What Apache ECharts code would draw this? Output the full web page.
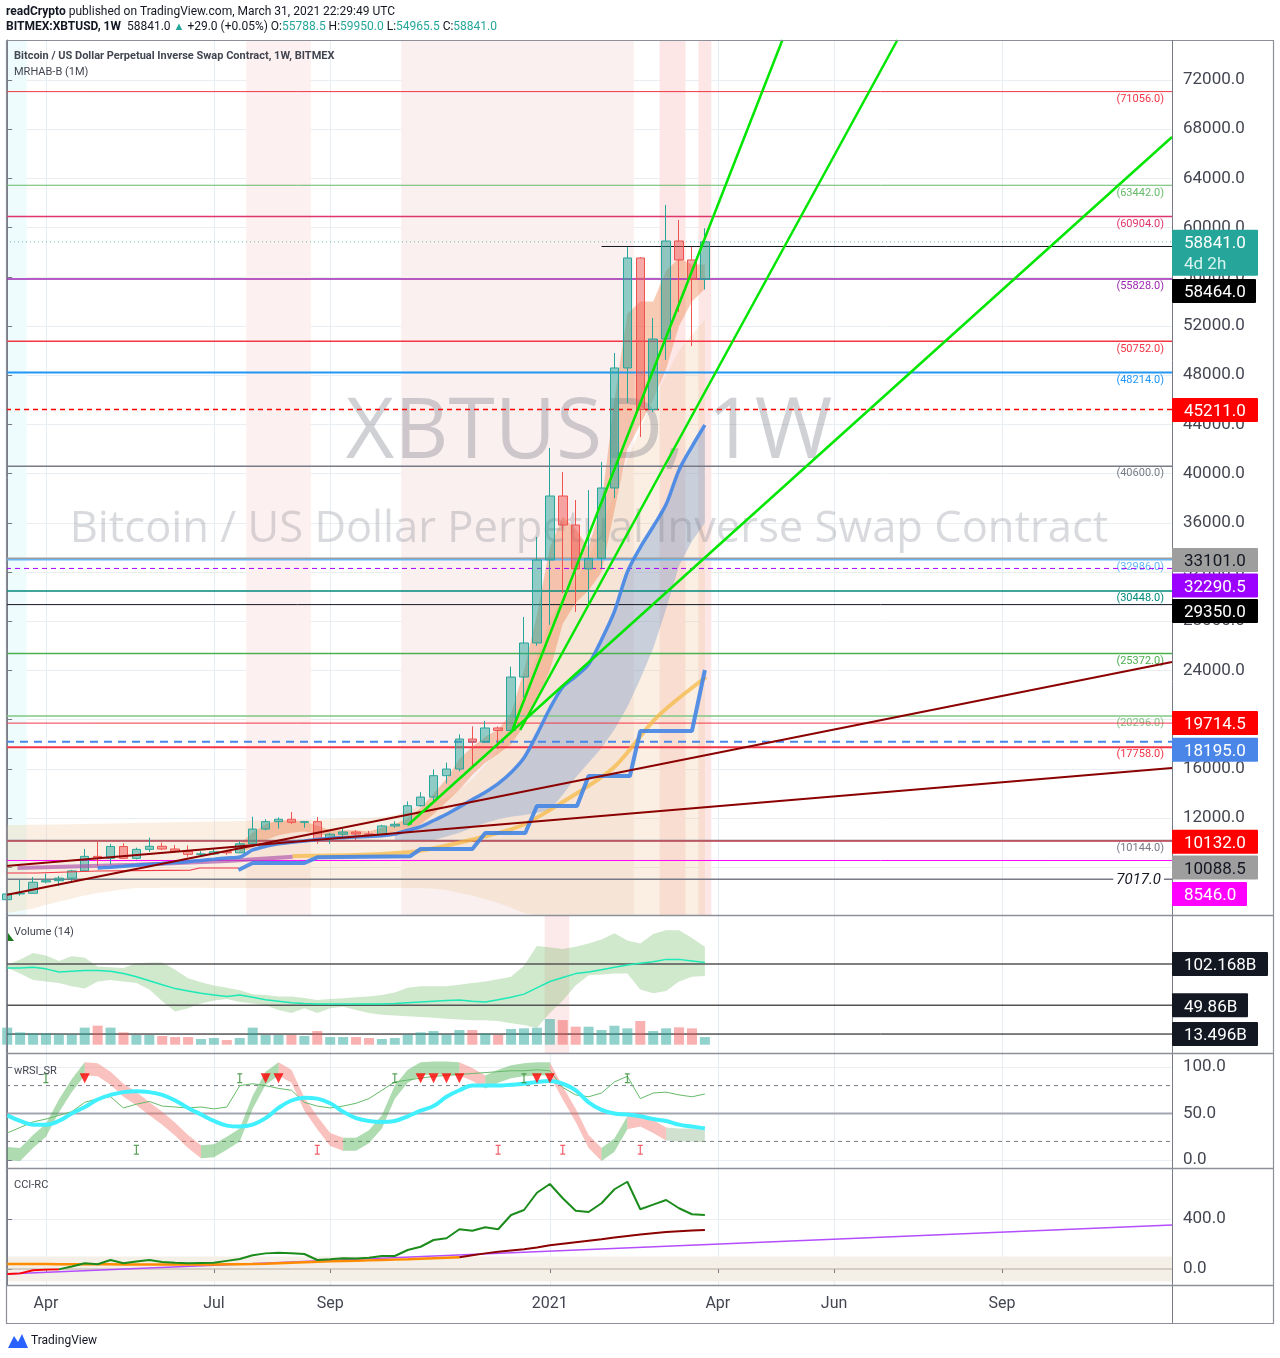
<!DOCTYPE html>
<html>
<head>
<meta charset="utf-8">
<title>XBTUSD 1W</title>
<script src="https://cdn.jsdelivr.net/npm/echarts@6/dist/echarts.min.js"></script>
<style>
  html, body { margin: 0; background: #fff; }
  #main { width: 1280px; height: 1358px; }
</style>
</head>
<body>
<div id="main"></div>
<script>
// weekly bars, BITMEX:XBTUSD
const weeks = [
  '2020-03-16', '2020-03-23', '2020-03-30', '2020-04-06', '2020-04-13', '2020-04-20', '2020-04-27',
  '2020-05-04', '2020-05-11', '2020-05-18', '2020-05-25', '2020-06-01', '2020-06-08', '2020-06-15',
  '2020-06-22', '2020-06-29', '2020-07-06', '2020-07-13', '2020-07-20', '2020-07-27', '2020-08-03',
  '2020-08-10', '2020-08-17', '2020-08-24', '2020-08-31', '2020-09-07', '2020-09-14', '2020-09-21',
  '2020-09-28', '2020-10-05', '2020-10-12', '2020-10-19', '2020-10-26', '2020-11-02', '2020-11-09',
  '2020-11-16', '2020-11-23', '2020-11-30', '2020-12-07', '2020-12-14', '2020-12-21', '2020-12-28',
  '2021-01-04', '2021-01-11', '2021-01-18', '2021-01-25', '2021-02-01', '2021-02-08', '2021-02-15',
  '2021-02-22', '2021-03-01', '2021-03-08', '2021-03-15', '2021-03-22', '2021-03-29'
];
// [open, close, low, high]
const candles = [
  [5360, 5830, 4440, 6900], [5830, 5880, 5680, 6950], [5880, 6780, 5850, 7200], [6800, 6900, 6700, 7470],
  [6900, 7110, 6480, 7290], [7110, 7700, 6780, 7780], [7700, 8880, 7640, 9480], [8880, 8720, 8100, 10060],
  [8720, 9680, 8200, 9900], [9680, 8720, 8700, 9950], [8720, 9450, 8630, 9590], [9450, 9700, 9250, 10400],
  [9700, 9480, 9390, 10000], [9480, 9300, 9200, 9800], [9300, 9050, 8850, 9770], [9050, 9080, 8900, 9300],
  [9080, 9250, 9050, 9470], [9250, 9170, 9000, 9300], [9170, 9900, 9150, 10100], [9900, 11100, 9900, 12100],
  [11100, 11700, 11000, 11900], [11700, 11900, 11150, 12050], [11900, 11650, 11500, 12480], [11650, 11700, 11200, 11750],
  [11700, 10300, 9900, 12080], [10300, 10680, 9900, 10780], [10680, 10860, 10500, 11100], [10860, 10700, 10150, 11000],
  [10700, 10620, 10450, 10950], [10620, 11350, 10550, 11450], [11350, 11490, 11200, 11720], [11490, 13000, 11400, 13350],
  [13000, 13700, 12900, 14100], [13700, 15440, 13300, 15950], [15440, 15980, 14800, 16500], [15980, 18420, 15800, 18800],
  [18420, 18180, 16200, 19450], [18180, 19320, 18100, 19900], [19320, 19120, 17600, 19450], [19120, 23460, 19000, 24300],
  [23460, 26230, 21800, 28340], [26230, 32980, 26000, 34850], [32980, 38180, 27700, 42080], [38180, 35820, 30290, 40130],
  [35820, 32250, 28750, 37850], [32250, 33101, 29150, 38660], [33101, 38830, 32300, 40950], [38830, 48590, 38020, 49800],
  [48590, 57530, 45740, 58420], [57530, 45211, 42980, 57600], [45211, 50940, 45000, 52650], [50940, 58910, 49240, 61840],
  [58910, 57370, 53140, 60620], [57370, 55788.5, 50370, 58430], [55788.5, 58841, 54965.5, 59950]
];
// volume, billions
const volume = [21.6, 15.6, 14.4, 14.4, 13.1, 13.1, 21.6, 24.1, 21.6, 15.6, 12.3, 12.3, 11.0, 9.7, 9.7, 7.2, 8.5, 5.9,
  8.5, 21.6, 12.3, 12.3, 12.3, 11.0, 17.3, 9.7, 9.7, 9.7, 8.5, 7.2, 8.5, 13.1, 15.6, 17.3, 13.1, 18.6, 18.6, 14.4,
  12.3, 19.9, 20.7, 21.5, 32.5, 31.2, 22.8, 22.8, 18.6, 24.0, 20.7, 30.0, 17.3, 20.7, 22.0, 20.7, 9.7];
const volLine = [97, 97, 98, 96, 92, 93, 94, 94, 93, 90, 86, 81, 76, 71, 68, 65, 63, 61, 63, 60, 57, 55, 53, 52, 51.5,
  51.5, 51.5, 51.5, 51.5, 51.5, 52, 53, 54, 55, 56, 56.5, 55, 54, 57, 60, 64, 72, 80, 85, 90, 92, 95, 98, 101, 103, 105,
  108, 108, 106, 104];
const volUpper = [101, 108, 116, 113, 106, 112, 110, 99, 98, 97, 103, 104, 104, 95, 84, 79, 75, 72, 69, 64, 63, 61, 61,
  59, 56.5, 58, 58.7, 60, 61, 63, 66, 72, 74, 74, 74, 76, 78, 80, 83, 86, 100, 125, 123, 121, 124, 128, 133, 141, 132,
  128, 140, 145, 145, 135, 124];
const volLower = [97, 90, 82, 80, 78, 74, 71, 80, 82, 80, 78, 70, 55, 42, 46, 52, 56, 58, 54, 52, 50, 44, 40, 46, 40, 46,
  48, 44, 40, 38, 37, 36, 35, 34, 33, 32, 31, 31, 30, 27, 25, 21, 40, 56, 75, 88, 89, 90, 90, 70, 65, 68, 80, 86, 87];
const volLevels = [102.168, 49.86, 13.496];

// price overlays
const peachUpper = [11430, 11440, 11460, 11470, 11480, 11500, 11520, 11540, 11560, 11580, 11600, 11620, 11640, 11660,
  11680, 11700, 11720, 11740, 11760, 11780, 11800, 11820, 11840, 11860, 11880, 11900, 11930, 11960, 12000, 12100, 12245,
  12600, 13000, 13300, 13600, 14277, 15200, 16300, 17529, 19800, 22400, 25200, 28100, 30000, 31500, 33000, 35700, 38400,
  41100, 43600, 46000, 48000, 50000, 51300, 52500];
const peachLower = [4280, 4450, 4650, 4930, 5200, 5450, 5700, 5900, 6050, 6200, 6310, 6310, 6320, 6330, 6330, 6320, 6310,
  6310, 6300, 6300, 6310, 6310, 6320, 6320, 6310, 6310, 6300, 6300, 6310, 6310, 6310, 6310, 6300, 6250, 6150, 5900, 5700,
  5400, 5090, 4700, 4280, 4114, 4114, 4114, 4114, 4114, 4114, 4114, 4114, 4114, 4114, 4114, 4114, 4114, 4114];
const salmonFrom = 18;
const salmonLow = [9200, 9600, 10200, 10600, 10800, 10900, 10700, 10500, 10500, 10500, 10500, 10600, 10900, 11000, 11500,
  12300, 13300, 14300, 15500, 16500, 17200, 18000, 19500, 21500, 24000, 27800, 29500, 30500, 32000, 37000, 42000, 44000,
  46000, 48500, 52000, 54000, 55000];
const salmonHigh = [9900, 10800, 11500, 11800, 11800, 11700, 11400, 11000, 11000, 11000, 10900, 11200, 11500, 12000, 12800,
  14000, 15200, 16800, 17800, 18600, 19200, 20500, 24000, 28500, 34000, 36500, 35500, 34000, 37500, 46000, 53000, 54000,
  54000, 56500, 57500, 57000, 57000];
const blueFrom = 7;
const blueLine = [7940, 8000, 8070, 8150, 8230, 8300, 8380, 8450, 8550, 8650, 8750, 8830, 9400, 9700, 9900, 10030, 10130,
  10250, 10350, 10400, 10450, 10500, 10550, 10700, 11000, 11300, 11800, 12300, 12900, 13500, 14100, 14800, 15700, 16900,
  18800, 20900, 22650, 23500, 24500, 26500, 28800, 32000, 34000, 35700, 37500, 40300, 42200, 43950];
const blueLowFrom = 30;
const blueLow = [10050, 10100, 10150, 10210, 10500, 10800, 11200, 11600, 11900, 12100, 12240, 12400, 12650, 13900, 15300,
  16500, 17700, 19200, 21030, 23300, 25800, 29000, 32500, 34500, 36000];
const stepX = [17.9, 19, 23, 24, 31.2, 32, 36, 37, 40.1, 41, 44.1, 45, 48.2, 49, 53, 54];
const stepY = [7773, 8342, 8342, 8800, 8900, 9480, 9480, 10780, 10780, 12976, 12976, 15415, 15415, 19074, 19074, 24033];
const orangeX = [22.1, 31.2, 36.8, 39.9, 43, 46.9, 50.3, 54.1];
const orangeY = [8911, 9236, 10455, 11432, 13300, 16066, 20212, 23464];
const mauveX = [0.8, 10, 17, 22.1];
const mauveY = [7937, 8200, 8500, 8850];
const redX = [0, 2.3, 7, 14.2, 14.9, 17.9];
const redY = [7530, 7530, 7690, 7770, 7937, 7937];
// drawn trend lines: [week position, price]
const fanLines = [
  [[31.02, 11431], [90.155, 67366]],
  [[39.1, 19155], [60.0, 75252]],
  [[39.7, 19155], [68.9, 75252]]
];
const trendLines = [
  [[-0.093, 5740], [90.155, 24683]],
  [[-0.093, 8098], [90.155, 16066]]
];
const levelValues = [71056, 63442, 60904, 58841, 58464, 55828, 50752, 48214, 45211, 40600, 33101, 32986, 32290.5, 30448,
  29350, 25372, 20296, 19714.5, 18195, 17758, 10144, 10132, 8546, 7017];
const badgeValues = [58841, 58464, 45211, 33101, 32290.5, 29350, 19714.5, 18195, 10132, 10088.5, 8546];
const priceTicks = [8000, 12000, 16000, 20000, 24000, 28000, 32000, 36000, 40000, 44000, 48000, 52000, 56000, 60000,
  64000, 68000, 72000];

// wRSI_SR
const wave = [48, 42, 38, 38, 42, 50, 57, 65, 70, 73, 74, 73, 70, 64, 56, 49, 42, 37, 36, 38, 45, 56, 64, 67, 66, 61, 52,
  45, 42, 41, 42, 47, 53, 58, 68, 75, 80, 80, 80, 81, 82, 84, 85, 82, 75, 62, 54, 50, 49, 47, 44, 42, 38, 36, 34];
const ribbon = [7, 6, 20, 32, 58, 80, 98, 97, 88, 75, 66, 55, 45, 33, 20, 9, 10, 18, 27, 62, 88, 98, 90, 60, 40, 22, 17,
  17, 25, 41, 73, 90, 98, 99, 99, 98, 92, 84, 90, 95, 97, 98, 98, 72, 48, 20, 6, 16, 40, 43, 36, 28, 27, 27, 26];
const ribbonSegs = [[0, 6, 'up'], [6, 15, 'dn'], [15, 21, 'up'], [21, 26, 'dn'], [26, 35, 'up'], [35, 37, 'dn'],
  [37, 42, 'up'], [42, 46, 'dn'], [46, 48, 'up'], [48, 51, 'dn'], [51, 54, 'flat']];
const thin = [29, 35, 41, 44, 48, 52, 62, 66, 68, 56, 60, 63, 58, 57, 56, 57, 55, 57, 80, 82, 80, 77, 75, 62, 58, 56, 58,
  61, 66, 75, 84, 86, 88, 90, 91, 92, 93, 94, 95, 96, 96, 97, 96, 78, 70, 68, 72, 84, 90, 66, 72, 73, 70, 68, 71];
const sellMarks = [6, 20, 21, 32, 33, 34, 35, 41, 42];
const topMarks = [3, 18, 30, 40, 48];
const lowGreenMarks = [10];
const lowRedMarks = [24, 38, 43, 49];
const rsiLevels = [80, 50, 20];
const rsiTicks = [0, 50, 100];

// CCI-RC
const cciRed = [-40, -35, -10, -5, -3];
const cciGreen = [null, null, null, null, -3, 20, 46, 38, 72, 46, 60, 72, 56, 50, 46, 48, 50, 65, 80, 110, 125, 130, 126,
  120, 72, 78, 86, 84, 90, 104, 104, 152, 178, 232, 246, 318, 306, 334, 318, 432, 472, 610, 680, 566, 466, 456, 526,
  638, 698, 478, 515, 552, 486, 438, 432];
const cciOrange = [40, 40, 40, 40, 39, 39, 38, 38, 38, 37, 37, 37, 36, 36, 36, 37, 37, 38, 39, 40, 42, 46, 50, 54, 58, 61,
  64, 66, 69, 72, 75, 78, 82, 86, 90, 94];
const cciDarkFrom = 35;
const cciDark = [94, 110, 125, 138, 148, 158, 172, 190, 202, 214, 226, 238, 252, 264, 276, 286, 296, 302, 308, 312];
const cciPurple = [[-0.093, -40], [90.155, 352]];
const cciTicks = [0, 400];

const xTickIdx = [3, 16, 25, 42, 55, 64, 77];
const xTickText = ['Apr', 'Jul', 'Sep', '2021', 'Apr', 'Jun', 'Sep'];

const X_MIN = -0.093, X_MAX = 90.155;
const UP = '#26a69a', DOWN = '#ef5350';
const FONT = 'Roboto, "Noto Sans", sans-serif';
const idx = weeks.map((w, i) => i);

const levelStyles = [
  { c: '#f23645', tag: true }, { c: '#66bb6a', tag: true }, { c: '#e0356b', tag: true, w: 1.5 },
  { c: 'rgba(38,166,154,0.7)', dash: [1, 3] }, { c: '#131722', from: 46 }, { c: '#9c27b0', tag: true, w: 1.5 },
  { c: '#f23645', tag: true, w: 1.5 }, { c: '#2196f3', tag: true, w: 2 }, { c: '#ff0000', dash: [5, 4], w: 1.5 },
  { c: '#787b86', tag: true, w: 1.5 }, { c: '#9e9e9e', w: 2 }, { c: '#64b5f6', tag: true, w: 1.5 },
  { c: '#aa00ff', dash: [5, 4] }, { c: '#00897b', tag: true, w: 1.5 }, { c: '#131722' },
  { c: '#4caf50', tag: true, w: 1.5 }, { c: '#81c784', tag: true, w: 1.5 }, { c: '#f23645' },
  { c: '#4a86e8', dash: [8, 6], w: 2 }, { c: '#f23645', tag: true, w: 2 }, { c: '#787b86', tag: true, w: 2 },
  { c: '#f23645' }, { c: '#ff00ff' }, { c: '#787b86', w: 1.5, italic: true }
];
const badgeStyles = [
  { bg: '#26a69a', fg: '#fff', dy: 11, w: 86, sub: '4d 2h' }, { bg: '#000', fg: '#fff', dy: 44.5, w: 84 },
  { bg: '#ff0000', fg: '#fff', dy: 0.5, w: 86 }, { bg: '#9e9e9e', fg: '#131722', dy: 1.5, w: 86 },
  { bg: '#9c00ff', fg: '#fff', dy: 17, w: 86 }, { bg: '#000', fg: '#fff', dy: 6.5, w: 86 },
  { bg: '#ff0000', fg: '#fff', dy: 0, w: 86 }, { bg: '#4a86e8', fg: '#fff', dy: 8, w: 86 },
  { bg: '#ff0000', fg: '#fff', dy: 0.7, w: 86 }, { bg: '#9e9e9e', fg: '#131722', dy: 26, w: 86 },
  { bg: '#ff00ff', fg: '#fff', dy: 33.5, w: 75 }
];

const pairs = (xs, ys) => xs.map((x, i) => [x, ys[i]]);

const line = (g, data, color, width, z, extra) => Object.assign({
  type: 'line', xAxisIndex: g, yAxisIndex: g, data, symbol: 'none', silent: true, z,
  lineStyle: { color, width }, itemStyle: { color }
}, extra || {});

const poly = (g, xs, lo, hi, fill, z) => ({
  type: 'custom', xAxisIndex: g, yAxisIndex: g, z, silent: true, clip: true,
  data: [[xs[0], lo[0]]],
  renderItem: (p, api) => ({
    type: 'polygon',
    shape: {
      points: xs.map((x, i) => api.coord([x, hi[i]]))
        .concat(xs.map((x, i) => api.coord([x, lo[i]])).reverse())
    },
    style: { fill }
  })
});

const vbands = (g, bands, colors, z) => ({
  type: 'custom', xAxisIndex: g, yAxisIndex: g, z, silent: true, clip: true,
  data: bands.map(b => [b[0], 0]),
  renderItem: (p, api) => {
    const b = bands[p.dataIndex];
    const cs = p.coordSys;
    const x0 = api.coord([b[0], 0])[0], x1 = api.coord([b[1], 0])[0];
    return { type: 'rect', shape: { x: x0, y: cs.y, width: x1 - x0, height: cs.height }, style: { fill: colors[p.dataIndex] } };
  }
});

const hlines = (g, values, styles, z) => ({
  type: 'custom', xAxisIndex: g, yAxisIndex: g, z, silent: true, clip: true,
  data: values.map(v => [X_MAX, v]),
  renderItem: (p, api) => {
    const v = values[p.dataIndex], s = styles[p.dataIndex];
    const a = api.coord([s.from != null ? s.from : X_MIN, v]), b = api.coord([X_MAX, v]);
    const kids = [{
      type: 'line', shape: { x1: a[0], y1: a[1], x2: b[0], y2: b[1] },
      style: { stroke: s.c, lineWidth: s.w || 1, lineDash: s.dash }
    }];
    if (s.tag) {
      kids.push({ type: 'text', style: { text: '(' + v.toFixed(1) + ')', x: b[0] - 8, y: a[1] + 2, align: 'right', verticalAlign: 'top', fill: s.c, font: '11px ' + FONT } });
    }
    if (s.italic) {
      kids.push({ type: 'text', style: { text: v.toFixed(1), x: b[0] - 8, y: a[1] + 1, align: 'right', verticalAlign: 'middle', fill: '#131722', font: 'italic 15px ' + FONT, backgroundColor: '#fff', padding: [0, 3] } });
    }
    return { type: 'group', children: kids };
  }
});

const grids = [
  { left: 6, right: 108, top: 40, height: 875 },
  { left: 6, right: 108, top: 916, height: 137 },
  { left: 6, right: 108, top: 1054, height: 114 },
  { left: 6, right: 108, top: 1169, height: 116 }
];

const xAxes = grids.map((gr, g) => ({
  type: 'value', gridIndex: g, min: X_MIN, max: X_MAX,
  axisLine: { show: false },
  axisTick: { show: g === 3, customValues: xTickIdx, length: 4, lineStyle: { color: '#787b86' } },
  axisLabel: {
    show: g === 3, customValues: xTickIdx, margin: 11, color: '#434651', fontSize: 16, fontFamily: FONT,
    formatter: v => xTickText[xTickIdx.indexOf(v)]
  },
  splitLine: { show: true, lineStyle: { color: '#e6eef4' } }
}));

const yBase = (g, min, max, ticks, digits) => ({
  type: 'value', gridIndex: g, position: 'right', min, max,
  axisLine: { show: true, lineStyle: { color: '#787b86' } },
  axisTick: { show: !!ticks, customValues: ticks || [], length: 5, lineStyle: { color: '#787b86' } },
  axisLabel: {
    show: !!ticks, customValues: ticks || [], margin: 11, color: '#434651', fontSize: 17, fontFamily: FONT,
    padding: [5, 0, 0, 0],
    formatter: v => v.toFixed(digits)
  },
  splitLine: { show: !!ticks, lineStyle: { color: '#e9eef3' } }
});

const yAxes = [
  yBase(0, 4114, 75252, priceTicks, 1),
  yBase(1, -10.5, 162.9, null, 1),
  yBase(2, -8.6, 114, rsiTicks, 1),
  yBase(3, -128, 800, cciTicks, 1)
];

const series = [];
// main panel
series.push(vbands(0, [[-0.5, 1.5], [18.5, 23.5], [30.5, 48.5], [50.5, 52.5], [53.5, 54.5]],
  ['#eefcfd', '#fdf0f0', '#faf0f0', '#fce6e6', '#fce6e6'], 0));
series.push(poly(0, idx, peachLower, peachUpper, 'rgba(236,196,150,0.28)', 1));
const sx = idx.slice(salmonFrom);
series.push(poly(0, sx, salmonLow, salmonHigh, 'rgba(240,140,90,0.45)', 1));
const bx = idx.slice(blueLowFrom);
series.push(poly(0, bx, blueLow, blueLine.slice(blueLowFrom - blueFrom), 'rgba(110,150,205,0.35)', 1));
series.push(hlines(0, levelValues, levelStyles, 3));
series.push({
  type: 'candlestick', xAxisIndex: 0, yAxisIndex: 0, z: 5, barWidth: 9, silent: true,
  data: candles.map((c, i) => [i, c[0], c[1], c[2], c[3]]),
  itemStyle: { color: 'rgba(38,166,154,0.5)', color0: 'rgba(239,83,80,0.5)', borderColor: UP, borderColor0: DOWN, borderWidth: 1 }
});
series.push(line(0, pairs(redX, redY), '#f23645', 1.2, 6));
series.push(line(0, pairs(mauveX, mauveY), 'rgba(170,80,170,0.65)', 4, 6));
series.push(line(0, pairs(orangeX, orangeY), 'rgba(245,185,70,0.75)', 4, 6, { smooth: 0.3 }));
series.push(line(0, pairs(stepX, stepY), 'rgba(66,133,230,0.9)', 4, 6));
series.push(line(0, pairs(idx.slice(blueFrom), blueLine), 'rgba(66,133,230,0.9)', 3.5, 6, { smooth: 0.3 }));
trendLines.forEach(t => series.push(line(0, t, '#8b0000', 2, 7)));
fanLines.forEach(f => series.push(line(0, f, '#00e600', 2.5, 8)));

// volume panel
series.push(vbands(1, [[41.6, 43.5]], ['#fce9e9'], 0));
series.push(poly(1, idx, volLower, volUpper, 'rgba(120,190,110,0.35)', 1));
series.push(hlines(1, volLevels, [{ c: '#555', w: 1.5 }, { c: '#555', w: 1.5 }, { c: '#000' }], 2));
series.push({
  type: 'bar', xAxisIndex: 1, yAxisIndex: 1, barWidth: 10, z: 3, silent: true,
  data: volume.map((v, i) => ({
    value: [i, v],
    itemStyle: { color: candles[i][1] >= candles[i][0] ? 'rgba(38,166,154,0.5)' : 'rgba(239,83,80,0.45)' }
  }))
});
series.push(line(1, pairs(idx, volLine), '#1de9b6', 1.5, 4));

// wRSI panel
series.push(hlines(2, rsiLevels, [{ c: '#787b86', dash: [4, 4] }, { c: '#a3a6af', w: 2 }, { c: '#787b86', dash: [4, 4] }], 1));
const ribbonColor = { up: 'rgba(76,175,80,0.45)', dn: 'rgba(244,110,100,0.42)', flat: 'rgba(120,170,120,0.35)' };
ribbonSegs.forEach(sg => {
  const xs = idx.slice(sg[0], sg[1] + 1);
  const vals = ribbon.slice(sg[0], sg[1] + 1);
  series.push(poly(2, xs, vals.map(v => v - 7), vals.map(v => v + 7), ribbonColor[sg[2]], 2));
});
const thinIdx = series.length;
series.push(line(2, pairs(idx, thin), '#66bb6a', 1, 3));
const waveIdx = series.length;
series.push(line(2, pairs(idx, wave), '#40f0ff', 4, 4, { smooth: 0.4 }));
series.push({
  type: 'scatter', xAxisIndex: 2, yAxisIndex: 2, symbol: 'triangle', symbolRotate: 180, symbolSize: 10, z: 6, silent: true,
  itemStyle: { color: '#f00' }, data: sellMarks.map(i => [i, 88])
});
const IBEAM = 'path://M0 0H5V1.2H3.1V8.8H5V10H0V8.8H1.9V1.2H0Z';
series.push({
  type: 'scatter', xAxisIndex: 2, yAxisIndex: 2, symbol: IBEAM, symbolSize: [5, 10], z: 6, silent: true,
  itemStyle: { color: '#2e8b2e' }, data: topMarks.map(i => [i, 88]).concat(lowGreenMarks.map(i => [i, 11]))
});
series.push({
  type: 'scatter', xAxisIndex: 2, yAxisIndex: 2, symbol: IBEAM, symbolSize: [5, 10], z: 6, silent: true,
  itemStyle: { color: '#f23645' }, data: lowRedMarks.map(i => [i, 11])
});

// CCI-RC panel
series.push({
  type: 'custom', xAxisIndex: 3, yAxisIndex: 3, z: 0, silent: true, clip: true, data: [[0, 0]],
  renderItem: (p, api) => {
    const a = api.coord([X_MIN, 100]), b = api.coord([X_MAX, -100]);
    return { type: 'rect', shape: { x: a[0], y: a[1], width: b[0] - a[0], height: b[1] - a[1] }, style: { fill: '#f4efe7' } };
  }
});
series.push(hlines(3, [0], [{ c: '#b5aca0' }], 1));
series.push(line(3, cciPurple, '#b44dff', 1.5, 3));
series.push(line(3, pairs(idx.slice(0, cciOrange.length), cciOrange), '#ff8c00', 2.5, 3));
series.push(line(3, pairs(idx.slice(cciDarkFrom), cciDark), '#8b0000', 2, 3));
series.push(line(3, pairs(idx.slice(0, cciRed.length), cciRed), '#ff0000', 2, 4));
series.push(line(3, pairs(idx, cciGreen), '#1b8c1b', 2, 5));

const CYAN = '#40f0ff', RED = '#f44336';
const option = {
  animation: false,
  backgroundColor: '#fff',
  grid: grids,
  xAxis: xAxes,
  yAxis: yAxes,
  visualMap: [
    {
      type: 'piecewise', show: false, seriesIndex: waveIdx, dimension: 0,
      pieces: [
        { lt: 6, color: CYAN }, { gte: 6, lt: 15, color: RED }, { gte: 15, lt: 21, color: CYAN },
        { gte: 21, lt: 26.5, color: RED }, { gte: 26.5, lt: 35, color: CYAN }, { gte: 35, lt: 39, color: RED },
        { gte: 39, lt: 42, color: CYAN }, { gte: 42, lt: 46, color: RED }, { gte: 46, lt: 49, color: CYAN },
        { gte: 49, lt: 51, color: RED }, { gte: 51, lt: 52.5, color: CYAN }, { gte: 52.5, color: RED }
      ]
    },
    {
      type: 'piecewise', show: false, seriesIndex: thinIdx, dimension: 0,
      pieces: [
        { lt: 18.5, color: '#81c784' }, { gte: 18.5, lt: 22.5, color: '#ffb74d' }, { gte: 22.5, lt: 34.5, color: '#81c784' },
        { gte: 34.5, lt: 42.5, color: '#ffb74d' }, { gte: 42.5, lt: 44, color: '#81c784' }, { gte: 44, lt: 48, color: '#ffb74d' },
        { gte: 48, color: '#81c784' }
      ]
    }
  ],
  series
};

const chart = echarts.init(document.getElementById('main'));
chart.setOption(option);

const gfx = [];
const txt = (text, x, y, font, fill, extra) => Object.assign({ type: 'text', z: 100, silent: true, style: Object.assign({ text, x, y, font, fill, verticalAlign: 'middle' }, extra || {}) });

// watermark
gfx.push(Object.assign(txt('XBTUSD, 1W', 589, 434, '84px "Open Sans"', 'rgba(120,123,134,0.35)', { align: 'center' }), { z: 1 }));
gfx.push(Object.assign(txt('Bitcoin / US Dollar Perpetual Inverse Swap Contract', 589, 530, '43.5px "Open Sans"', 'rgba(120,123,134,0.28)', { align: 'center' }), { z: 1 }));

// header
gfx.push(txt('{b|readCrypto} published on TradingView.com, March 31, 2021 22:29:49 UTC', 6, 12, '12px ' + FONT, '#131722',
  { rich: { b: { fontWeight: 'bold', fontSize: 12, fontFamily: FONT, fill: '#131722' } } }));
gfx.push(txt('{b|BITMEX:XBTUSD, 1W}  58841.0 {g|▲} +29.0 (+0.05%) O:{t|55788.5} H:{t|59950.0} L:{t|54965.5} C:{t|58841.0}', 6, 27,
  '12px ' + FONT, '#131722', {
    rich: {
      b: { fontWeight: 'bold', fontSize: 12, fontFamily: FONT, fill: '#131722' },
      g: { fontSize: 11, fill: UP },
      t: { fontSize: 12, fontFamily: FONT, fill: UP }
    }
  }));
gfx.push(txt('Bitcoin / US Dollar Perpetual Inverse Swap Contract, 1W, BITMEX', 14, 56, 'bold 11px ' + FONT, '#434651'));
gfx.push(txt('MRHAB-B (1M)', 14, 72, '11px ' + FONT, '#434651'));
gfx.push(txt('Volume (14)', 14, 932, '11px ' + FONT, '#434651'));
gfx.push({ type: 'polygon', z: 100, silent: true, shape: { points: [[8, 941], [14, 941], [8, 933]] }, style: { fill: '#1b7a1b' } });
gfx.push(txt('wRSI_SR', 14, 1071, '11px ' + FONT, '#434651'));
gfx.push(txt('CCI-RC', 14, 1185, '11px ' + FONT, '#434651'));

// frame and separators
const frameColor = '#8d9099';
const hl = (y, x1, x2, w) => ({ type: 'line', z: 50, silent: true, shape: { x1, y1: y, x2, y2: y }, style: { stroke: frameColor, lineWidth: w || 1 } });
gfx.push({ type: 'rect', z: 50, silent: true, shape: { x: 6.5, y: 40.5, width: 1267, height: 1283 }, style: { fill: 'none', stroke: frameColor, lineWidth: 1.2 } });
gfx.push({ type: 'line', z: 50, silent: true, shape: { x1: 1172.5, y1: 40, x2: 1172.5, y2: 1323 }, style: { stroke: '#787b86', lineWidth: 1 } });
[915.5, 1053.5, 1168.5, 1285.5].forEach(y => gfx.push(hl(y, 6, 1274, 1.3)));

// price badges on the right axis
badgeValues.forEach((v, i) => {
  const s = badgeStyles[i];
  const y = chart.convertToPixel({ yAxisIndex: 0 }, v) + s.dy;
  const h = s.sub ? 46 : 24;
  const top = s.sub ? y - 23 : y - 12;
  gfx.push({ type: 'rect', z: 90, silent: true, shape: { x: 1172, y: top, width: s.w, height: h, r: 1 }, style: { fill: s.bg } });
  gfx.push(txt(v.toFixed(1), 1184, s.sub ? top + 14 : y + 2, '17px ' + FONT, s.fg));
  if (s.sub) gfx.push(txt(s.sub, 1184, top + 35, '17px ' + FONT, '#d8f3ef'));
});
const volBadgeW = [96, 76, 86];
volLevels.forEach((v, i) => {
  const y = chart.convertToPixel({ yAxisIndex: 1 }, v);
  gfx.push({ type: 'rect', z: 90, silent: true, shape: { x: 1172, y: y - 12, width: volBadgeW[i], height: 24, r: 1 }, style: { fill: '#131722' } });
  gfx.push(txt(v + 'B', 1184, y + 2, '17px ' + FONT, '#fff'));
});

// TradingView footer
gfx.push({ type: 'polygon', z: 100, silent: true, shape: { points: [[8, 1348], [14, 1336], [18, 1342], [22, 1334], [28, 1348]] }, style: { fill: '#2962ff' } });
gfx.push(txt('TradingView', 31, 1341, '12px ' + FONT, '#131722'));

chart.setOption({ graphic: { elements: gfx } });
</script>
</body>
</html>
